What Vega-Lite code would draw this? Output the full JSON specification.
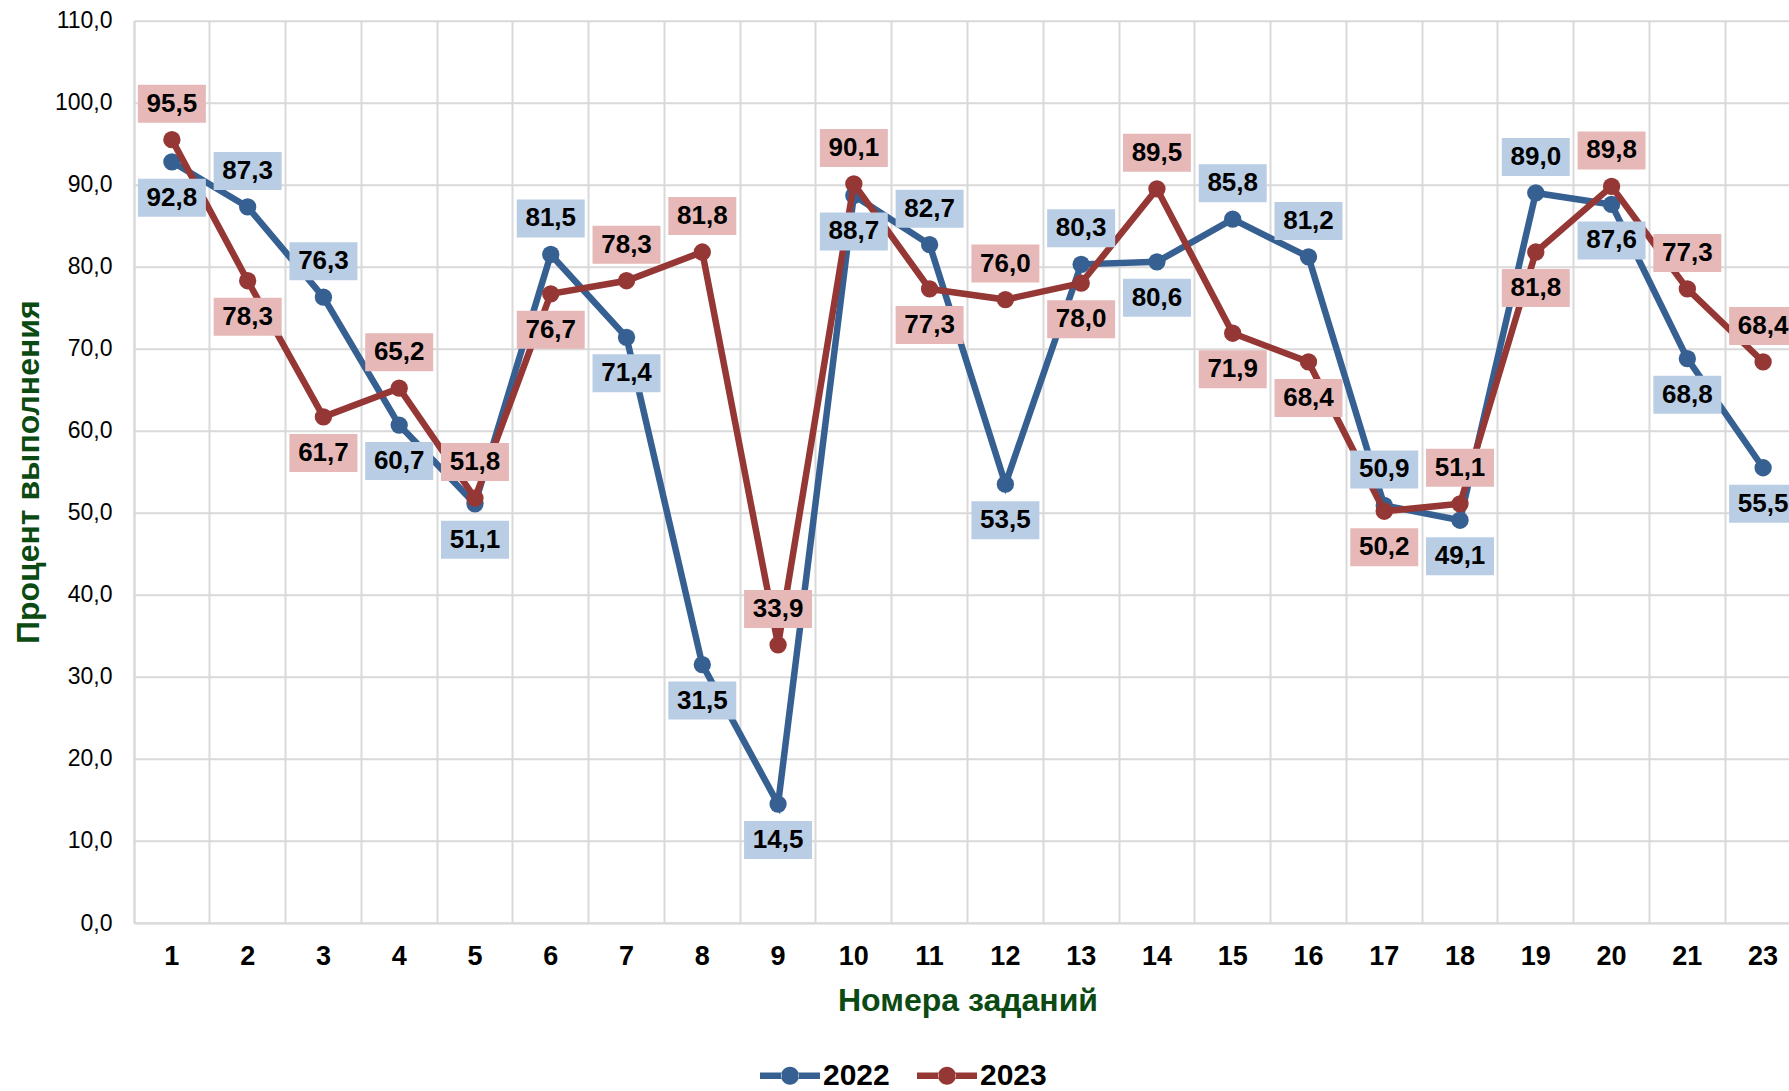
{
  "$schema": "https://vega.github.io/schema/vega-lite/v6.json",
  "autosize": {"type": "none"},
  "padding": {"left": 134, "top": 20.7, "right": 0, "bottom": 168},
  "width": 1655,
  "height": 902.3,
  "config": {
    "locale": {"number": {"decimal": ",", "thousands": " ", "grouping": [3], "currency": ["", " ₽"]}},
    "font": "Liberation Sans",
    "view": {"stroke": null},
    "axis": {"domainColor": "#d9d9d9", "domainWidth": 2, "gridColor": "#d9d9d9", "gridWidth": 2, "ticks": false, "labelColor": "#000000", "labelFont": "Liberation Sans", "titleFont": "Liberation Sans"}
  },
  "data": {"values": [
    {"task": "1", "year": "2022", "value": 92.8},
    {"task": "2", "year": "2022", "value": 87.3},
    {"task": "3", "year": "2022", "value": 76.3},
    {"task": "4", "year": "2022", "value": 60.7},
    {"task": "5", "year": "2022", "value": 51.1},
    {"task": "6", "year": "2022", "value": 81.5},
    {"task": "7", "year": "2022", "value": 71.4},
    {"task": "8", "year": "2022", "value": 31.5},
    {"task": "9", "year": "2022", "value": 14.5},
    {"task": "10", "year": "2022", "value": 88.7},
    {"task": "11", "year": "2022", "value": 82.7},
    {"task": "12", "year": "2022", "value": 53.5},
    {"task": "13", "year": "2022", "value": 80.3},
    {"task": "14", "year": "2022", "value": 80.6},
    {"task": "15", "year": "2022", "value": 85.8},
    {"task": "16", "year": "2022", "value": 81.2},
    {"task": "17", "year": "2022", "value": 50.9},
    {"task": "18", "year": "2022", "value": 49.1},
    {"task": "19", "year": "2022", "value": 89.0},
    {"task": "20", "year": "2022", "value": 87.6},
    {"task": "21", "year": "2022", "value": 68.8},
    {"task": "23", "year": "2022", "value": 55.5},
    {"task": "1", "year": "2023", "value": 95.5},
    {"task": "2", "year": "2023", "value": 78.3},
    {"task": "3", "year": "2023", "value": 61.7},
    {"task": "4", "year": "2023", "value": 65.2},
    {"task": "5", "year": "2023", "value": 51.8},
    {"task": "6", "year": "2023", "value": 76.7},
    {"task": "7", "year": "2023", "value": 78.3},
    {"task": "8", "year": "2023", "value": 81.8},
    {"task": "9", "year": "2023", "value": 33.9},
    {"task": "10", "year": "2023", "value": 90.1},
    {"task": "11", "year": "2023", "value": 77.3},
    {"task": "12", "year": "2023", "value": 76.0},
    {"task": "13", "year": "2023", "value": 78.0},
    {"task": "14", "year": "2023", "value": 89.5},
    {"task": "15", "year": "2023", "value": 71.9},
    {"task": "16", "year": "2023", "value": 68.4},
    {"task": "17", "year": "2023", "value": 50.2},
    {"task": "18", "year": "2023", "value": 51.1},
    {"task": "19", "year": "2023", "value": 81.8},
    {"task": "20", "year": "2023", "value": 89.8},
    {"task": "21", "year": "2023", "value": 77.3},
    {"task": "23", "year": "2023", "value": 68.4}
  ]},
  "encoding": {
    "x": {
      "field": "task", "type": "ordinal",
      "scale": {"type": "band", "domain": ["1","2","3","4","5","6","7","8","9","10","11","12","13","14","15","16","17","18","19","20","21","23"], "range": [0, 1667], "paddingInner": 0, "paddingOuter": 0},
      "axis": {"title": "Номера заданий", "grid": true, "bandPosition": 0, "labelAngle": 0, "labelFontSize": 27, "labelFontWeight": "bold", "labelPadding": 33, "labelBaseline": "middle", "titleFontSize": 32, "titleFontWeight": "bold", "titleColor": "#0b4a12", "titleX": 833.5, "titleY": 77.6, "titleAlign": "center", "titleBaseline": "middle"}
    },
    "y": {
      "field": "value", "type": "quantitative",
      "scale": {"domain": [0, 110], "nice": false, "zero": true},
      "axis": {"title": "Процент выполнения", "values": [0,10,20,30,40,50,60,70,80,90,100,110], "format": ".1f", "labelFontSize": 23, "labelPadding": 22, "titleFontSize": 32, "titleFontWeight": "bold", "titleColor": "#0b4a12", "titleAngle": 270, "titleX": -105.5, "titleY": 451, "titleAlign": "center", "titleBaseline": "middle"}
    }
  },
  "layer": [
    {"transform": [{"filter": "datum.year == '2022'"}], "mark": {"type": "line", "strokeWidth": 6.5}, "encoding": {"color": {"field": "year", "type": "nominal", "scale": {"domain": ["2022","2023"], "range": ["#376092","#953735"]}, "legend": {"orient": "none", "legendX": 626, "legendY": 1025, "direction": "horizontal", "title": null, "symbolType": "M-1,-0.11 L-0.28,-0.11 L-0.28,0.11 L-1,0.11 Z M0.28,-0.11 L1,-0.11 L1,0.11 L0.28,0.11 Z M-0.3,0 A0.3,0.3 0 1,0 0.3,0 A0.3,0.3 0 1,0 -0.3,0 Z", "symbolSize": 3600, "symbolStrokeWidth": 0, "labelFontSize": 30, "labelFontWeight": "bold", "labelColor": "#000000", "labelOffset": 3, "columnPadding": 27, "encode": {"symbols": {"update": {"fill": {"scale": "color", "field": "value"}, "stroke": {"value": "transparent"}, "strokeWidth": {"value": 0}}}}}}}},
    {"transform": [{"filter": "datum.year == '2022'"}], "mark": {"type": "point", "filled": true, "size": 300, "opacity": 1}, "encoding": {"color": {"field": "year", "type": "nominal"}}},
    {"transform": [{"filter": "datum.year == '2023'"}], "mark": {"type": "line", "strokeWidth": 6.5}, "encoding": {"color": {"field": "year", "type": "nominal"}}},
    {"transform": [{"filter": "datum.year == '2023'"}], "mark": {"type": "point", "filled": true, "size": 300, "opacity": 1}, "encoding": {"color": {"field": "year", "type": "nominal"}}},
    {"transform": [{"filter": "datum.year == '2022' && indexof(['2','3','6','11','13','15','16','17','19'], datum.task) >= 0"}], "mark": {"type": "point", "filled": true, "opacity": 1, "color": "#b9cde5", "size": 1444, "shape": "M-1.789,-2.895 L1.789,-2.895 L1.789,-0.895 L-1.789,-0.895 Z"}},
    {"transform": [{"filter": "datum.year == '2022' && indexof(['2','3','6','11','13','15','16','17','19'], datum.task) < 0"}], "mark": {"type": "point", "filled": true, "opacity": 1, "color": "#b9cde5", "size": 1444, "shape": "M-1.789,0.895 L1.789,0.895 L1.789,2.895 L-1.789,2.895 Z"}},
    {"transform": [{"filter": "datum.year == '2022' && indexof(['2','3','6','11','13','15','16','17','19'], datum.task) >= 0"}], "mark": {"type": "text", "dy": -36, "fontSize": 26, "fontWeight": "bold", "color": "#000000", "baseline": "middle", "align": "center"}, "encoding": {"text": {"field": "value", "type": "quantitative", "format": ".1f"}}},
    {"transform": [{"filter": "datum.year == '2022' && indexof(['2','3','6','11','13','15','16','17','19'], datum.task) < 0"}], "mark": {"type": "text", "dy": 36, "fontSize": 26, "fontWeight": "bold", "color": "#000000", "baseline": "middle", "align": "center"}, "encoding": {"text": {"field": "value", "type": "quantitative", "format": ".1f"}}},
    {"transform": [{"filter": "datum.year == '2023' && indexof(['1','4','5','7','8','9','10','12','14','18','20','21','23'], datum.task) >= 0"}], "mark": {"type": "point", "filled": true, "opacity": 1, "color": "#e6b9b8", "size": 1444, "shape": "M-1.789,-2.895 L1.789,-2.895 L1.789,-0.895 L-1.789,-0.895 Z"}},
    {"transform": [{"filter": "datum.year == '2023' && indexof(['1','4','5','7','8','9','10','12','14','18','20','21','23'], datum.task) < 0"}], "mark": {"type": "point", "filled": true, "opacity": 1, "color": "#e6b9b8", "size": 1444, "shape": "M-1.789,0.895 L1.789,0.895 L1.789,2.895 L-1.789,2.895 Z"}},
    {"transform": [{"filter": "datum.year == '2023' && indexof(['1','4','5','7','8','9','10','12','14','18','20','21','23'], datum.task) >= 0"}], "mark": {"type": "text", "dy": -36, "fontSize": 26, "fontWeight": "bold", "color": "#000000", "baseline": "middle", "align": "center"}, "encoding": {"text": {"field": "value", "type": "quantitative", "format": ".1f"}}},
    {"transform": [{"filter": "datum.year == '2023' && indexof(['1','4','5','7','8','9','10','12','14','18','20','21','23'], datum.task) < 0"}], "mark": {"type": "text", "dy": 36, "fontSize": 26, "fontWeight": "bold", "color": "#000000", "baseline": "middle", "align": "center"}, "encoding": {"text": {"field": "value", "type": "quantitative", "format": ".1f"}}}
  ]
}
